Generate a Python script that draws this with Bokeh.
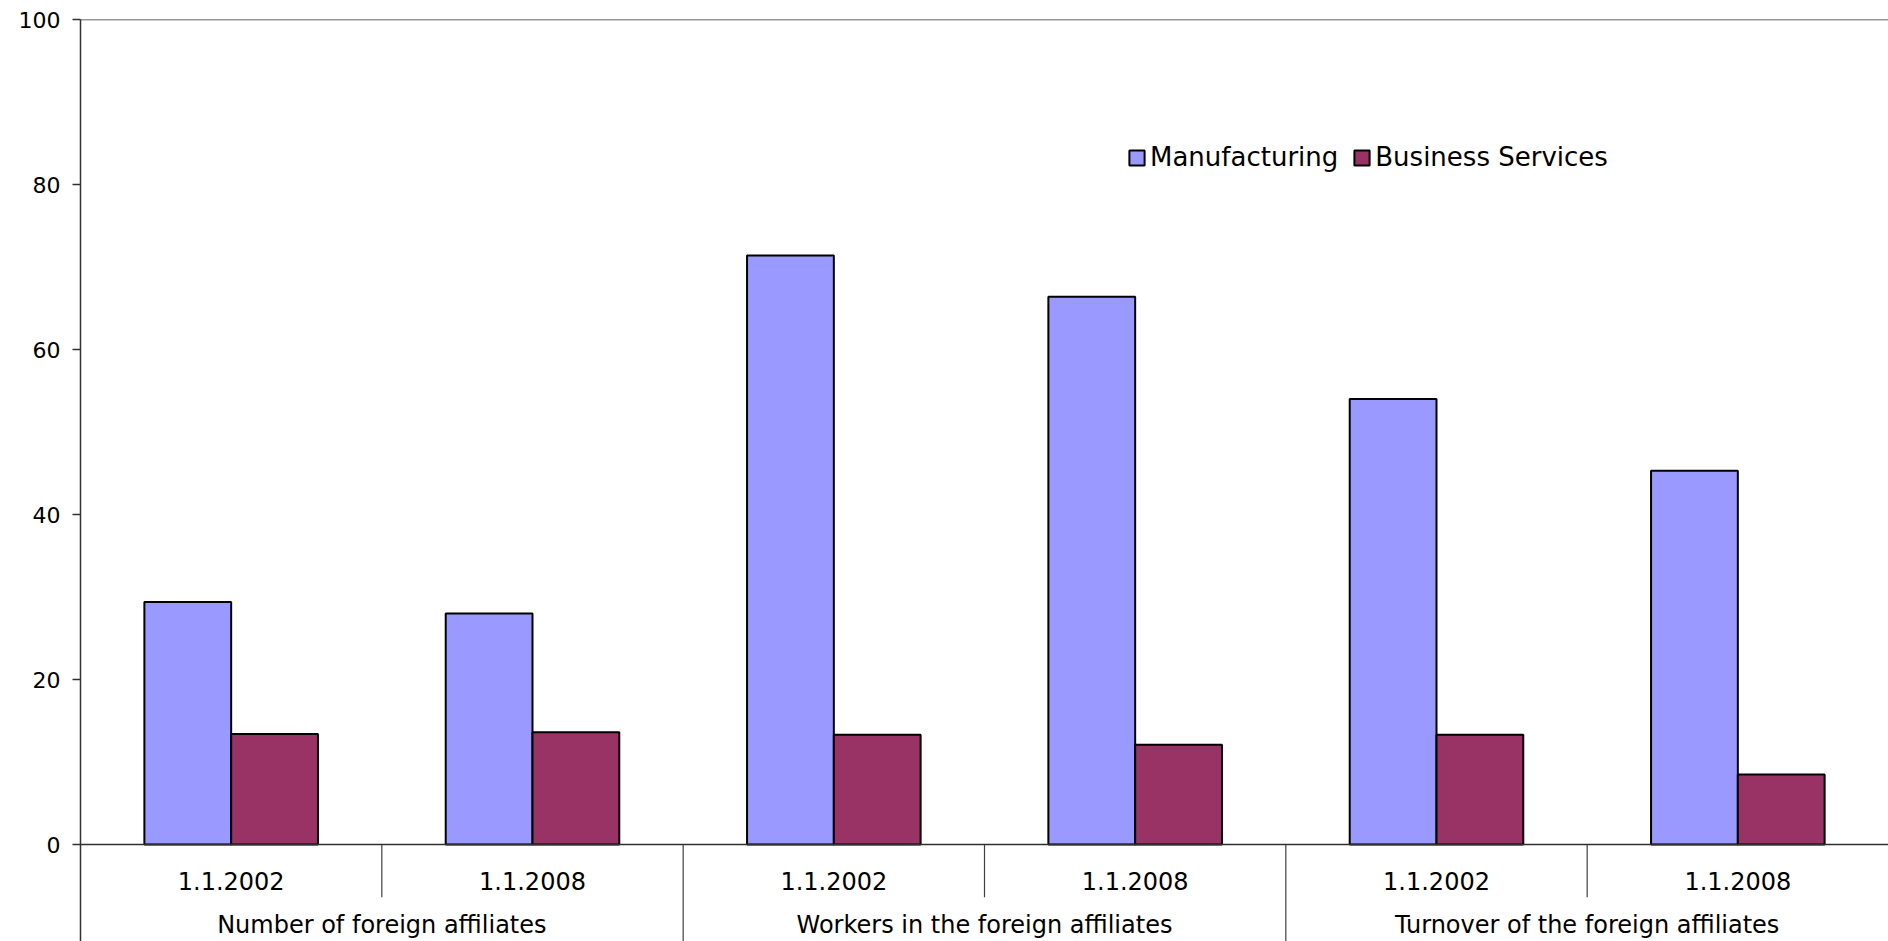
from bokeh.plotting import figure
from bokeh.models import (FactorRange, Range1d, FixedTicker, Legend, LegendItem,
                          ColumnDataSource, Span)
from bokeh.transform import dodge
from bokeh.core.properties import value
from bokeh.embed import file_html
from bokeh.resources import INLINE

# ---- data ----
groups = ["Number of foreign affiliates",
          "Workers in the foreign affiliates",
          "Turnover of the foreign affiliates"]
dates = ["1.1.2002", "1.1.2008"]
manufacturing = [29.4, 28.0, 71.4, 66.4, 54.0, 45.3]
business_services = [13.4, 13.6, 13.3, 12.1, 13.3, 8.5]
y_ticks = [0, 20, 40, 60, 80, 100]
series_names = ["Manufacturing", "Business Services"]

FONT = "DejaVu Sans"
W, H = 1888, 941
TOP = 19
PX_PER_UNIT = 8.25
frame_h = H - TOP
y_start = 100 - frame_h / PX_PER_UNIT

factors = [(g, d) for g in groups for d in dates]
src = ColumnDataSource(dict(x=factors, m=manufacturing, b=business_services,
                            date=[d for g in groups for d in dates]))

p = figure(width=W, height=H, output_backend="svg", toolbar_location=None,
           x_range=FactorRange(*factors, factor_padding=0, group_padding=0,
                               subgroup_padding=0, range_padding=0),
           y_range=Range1d(y_start, 100), x_axis_location=None,
           min_border_left=80, min_border_top=TOP, min_border_right=0,
           min_border_bottom=0)
p.outline_line_color = None
p.xgrid.visible = False
p.ygrid.visible = False
p.background_fill_color = "white"

ax = p.yaxis[0]
ax.ticker = FixedTicker(ticks=y_ticks)
ax.major_tick_out = 8
ax.major_tick_in = 0
ax.minor_tick_line_color = None
ax.axis_line_color = "#303030"
ax.axis_line_width = 1.5
ax.major_tick_line_color = "#303030"
ax.major_tick_line_width = 1.5
ax.major_label_standoff = 12
ax.major_label_text_font = FONT
ax.major_label_text_font_size = "22px"
ax.major_label_text_color = "black"

# horizontal lines at 0 and 100
for loc in (0, 100):
    p.add_layout(Span(location=loc, dimension="width", line_color="#303030",
                      line_width=1.5))

BW = 0.288
r1 = p.vbar(x=dodge("x", -BW / 2, range=p.x_range), top="m", width=BW, source=src,
            fill_color="#9999FF", line_color="black", line_width=2)
r2 = p.vbar(x=dodge("x", BW / 2, range=p.x_range), top="b", width=BW, source=src,
            fill_color="#993366", line_color="black", line_width=2)

# separators
short_src = ColumnDataSource(dict(x=[(g, dates[0]) for g in groups]))
p.segment(x0=dodge("x", 0.5, range=p.x_range), x1=dodge("x", 0.5, range=p.x_range),
          y0=0, y1=-6.4, source=short_src, line_color="#404040", line_width=1.2)
long_src = ColumnDataSource(dict(x=[(g, dates[0]) for g in groups[1:]]))
p.segment(x0=dodge("x", -0.5, range=p.x_range), x1=dodge("x", -0.5, range=p.x_range),
          y0=0, y1=y_start, source=long_src, line_color="#404040", line_width=1.2)

# labels
p.text(x="x", y=-4.37, text="date", source=src, text_font=value(FONT),
       text_font_size="24px", text_align="center", text_baseline="middle",
       text_color="black")
gsrc = ColumnDataSource(dict(x=groups, t=groups))
p.text(x="x", y=-9.7, text="t", source=gsrc, text_font=value(FONT),
       text_font_size="24px", text_align="center", text_baseline="middle",
       text_color="black")

legend = Legend(items=[LegendItem(label=series_names[0], renderers=[r1]),
                       LegendItem(label=series_names[1], renderers=[r2])],
                location=(1047, 769), orientation="horizontal",
                label_text_font=FONT, label_text_font_size="26px",
                label_text_color="black", glyph_width=19, glyph_height=19,
                label_standoff=4, spacing=14, padding=0, margin=0,
                border_line_alpha=0, background_fill_alpha=0)
p.add_layout(legend)

open("out.html", "w").write(file_html(p, INLINE))
